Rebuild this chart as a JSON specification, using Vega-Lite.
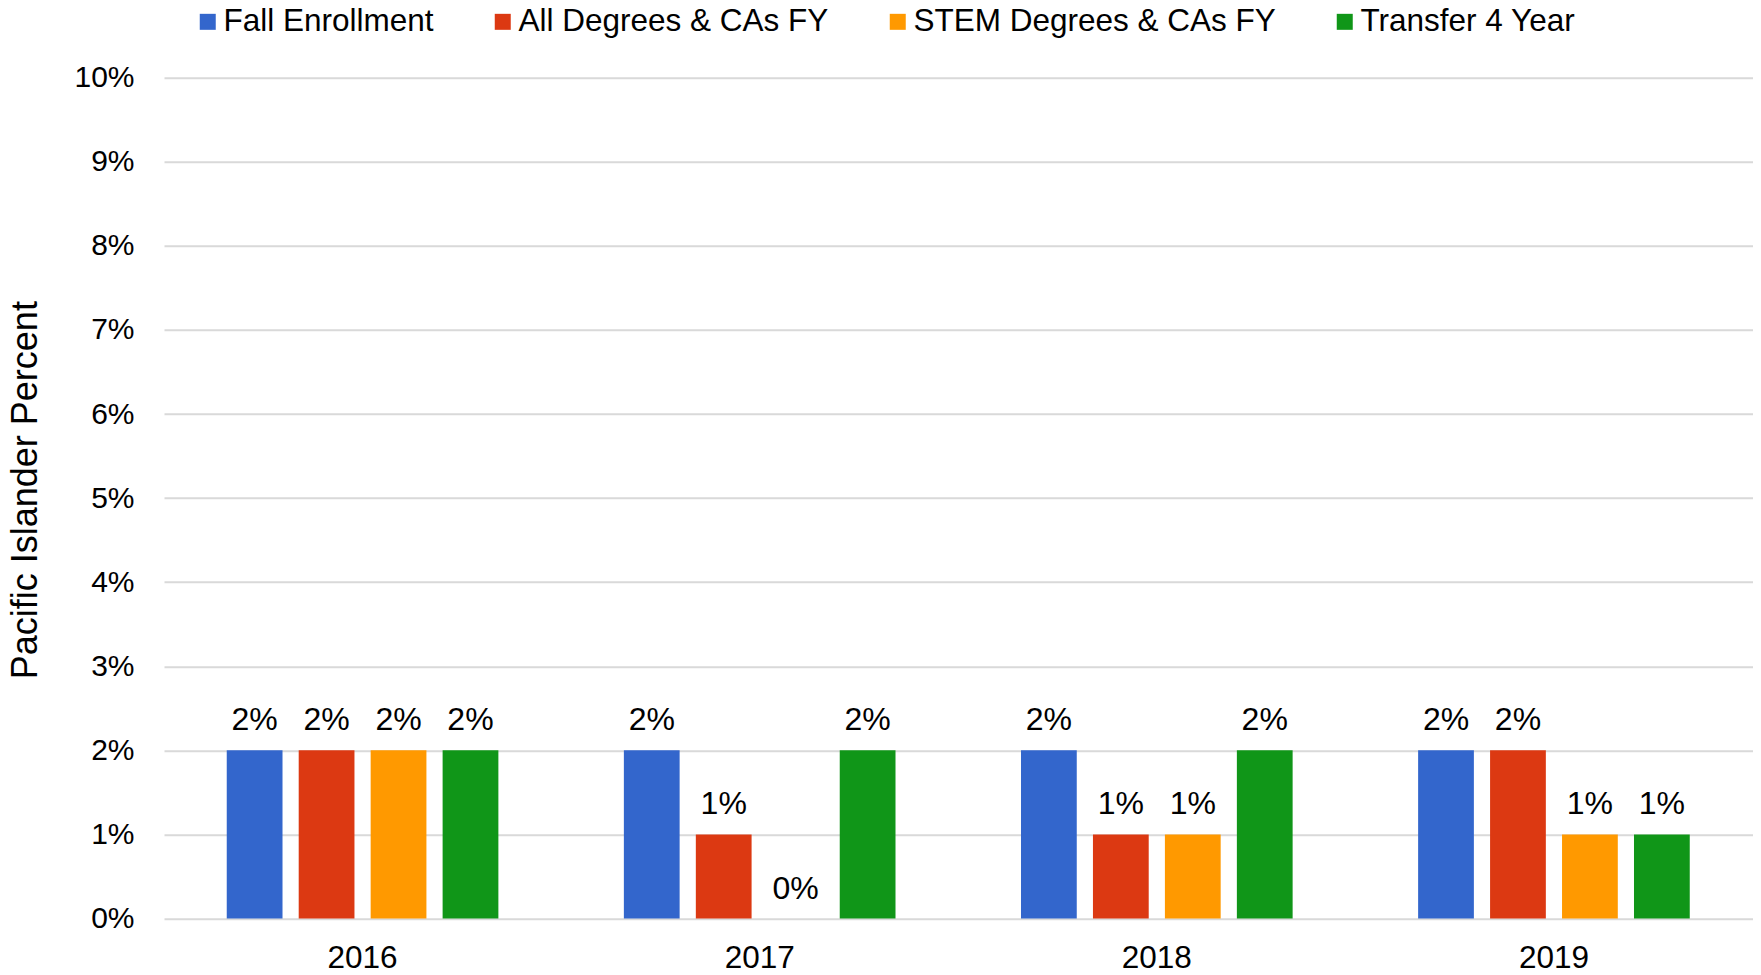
{
  "$schema": "https://vega.github.io/schema/vega-lite/v6.json",
  "width": 1588.5,
  "height": 840.8,
  "autosize": {"type": "none"},
  "padding": {"left": 164, "top": 77.7, "right": 8.5, "bottom": 56.5},
  "background": "white",
  "config": {"view": {"stroke": null}, "font": "Liberation Sans"},
  "data": {
    "values": [
      {"year": "2016", "metric": "Fall Enrollment", "value": 0.02},
      {"year": "2016", "metric": "All Degrees & CAs FY", "value": 0.02},
      {"year": "2016", "metric": "STEM Degrees & CAs FY", "value": 0.02},
      {"year": "2016", "metric": "Transfer 4 Year", "value": 0.02},
      {"year": "2017", "metric": "Fall Enrollment", "value": 0.02},
      {"year": "2017", "metric": "All Degrees & CAs FY", "value": 0.01},
      {"year": "2017", "metric": "STEM Degrees & CAs FY", "value": 0},
      {"year": "2017", "metric": "Transfer 4 Year", "value": 0.02},
      {"year": "2018", "metric": "Fall Enrollment", "value": 0.02},
      {"year": "2018", "metric": "All Degrees & CAs FY", "value": 0.01},
      {"year": "2018", "metric": "STEM Degrees & CAs FY", "value": 0.01},
      {"year": "2018", "metric": "Transfer 4 Year", "value": 0.02},
      {"year": "2019", "metric": "Fall Enrollment", "value": 0.02},
      {"year": "2019", "metric": "All Degrees & CAs FY", "value": 0.02},
      {"year": "2019", "metric": "STEM Degrees & CAs FY", "value": 0.01},
      {"year": "2019", "metric": "Transfer 4 Year", "value": 0.01}
    ]
  },
  "encoding": {
    "x": {
      "field": "year",
      "type": "nominal",
      "scale": {"paddingInner": 0.316, "paddingOuter": 0.158},
      "axis": {
        "title": null,
        "labelAngle": 0,
        "labelFontSize": 31.5,
        "labelColor": "black",
        "labelPadding": 24,
        "domain": false,
        "ticks": false,
        "grid": false
      }
    },
    "xOffset": {
      "field": "metric",
      "type": "nominal",
      "sort": ["Fall Enrollment", "All Degrees & CAs FY", "STEM Degrees & CAs FY", "Transfer 4 Year"],
      "scale": {"paddingInner": 0.225, "paddingOuter": 0}
    },
    "y": {
      "field": "value",
      "type": "quantitative",
      "scale": {"domain": [0, 0.1], "nice": false},
      "axis": {
        "values": [0, 0.01, 0.02, 0.03, 0.04, 0.05, 0.06, 0.07, 0.08, 0.09, 0.1],
        "format": ".0%",
        "grid": true,
        "gridColor": "#d9d9d9",
        "gridWidth": 2,
        "domain": false,
        "ticks": false,
        "labelFontSize": 30,
        "labelColor": "black",
        "labelPadding": 30,
        "title": "Pacific Islander Percent",
        "titleFontSize": 36,
        "titleFontWeight": "normal",
        "titleColor": "black",
        "titleX": -139,
        "titleY": 412,
        "titleAngle": -90,
        "titleAlign": "center",
        "titleBaseline": "middle"
      }
    }
  },
  "layer": [
    {
      "mark": {"type": "bar"},
      "encoding": {
        "color": {
          "field": "metric",
          "type": "nominal",
          "scale": {
            "domain": ["Fall Enrollment", "All Degrees & CAs FY", "STEM Degrees & CAs FY", "Transfer 4 Year"],
            "range": ["#3366CC", "#DC3912", "#FF9900", "#109618"]
          },
          "legend": {
            "title": null,
            "orient": "none",
            "legendX": 28,
            "legendY": -72,
            "direction": "horizontal",
            "symbolType": "square",
            "symbolSize": 256,
            "symbolStrokeWidth": 0,
            "labelFontSize": 31.5,
            "labelColor": "black",
            "labelOffset": 0,
            "labelLimit": 500,
            "columnPadding": 53,
            "padding": 0
          }
        }
      }
    },
    {
      "mark": {"type": "text", "dy": -20, "baseline": "alphabetic", "fontSize": 32, "color": "black"},
      "encoding": {
        "text": {"field": "value", "type": "quantitative", "format": ".0%"}
      }
    }
  ]
}
